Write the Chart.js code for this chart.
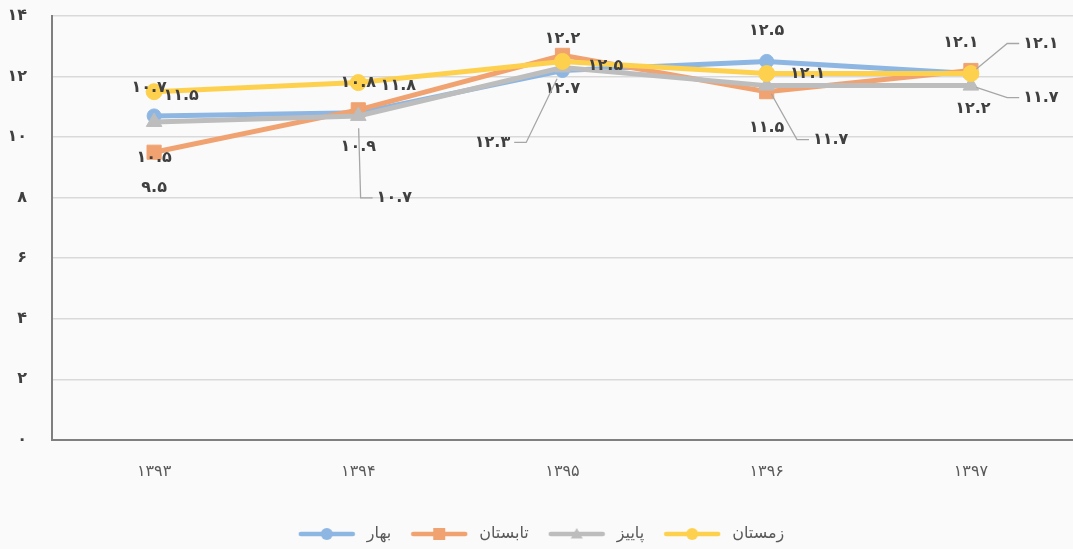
<!DOCTYPE html>
<html>
<head>
<meta charset="utf-8">
<script src="https://cdn.jsdelivr.net/npm/chart.js@4.4.1/dist/chart.umd.min.js"></script>
<style>
  html, body { margin: 0; padding: 0; background: #fafafa; overflow: hidden; }
  #wrap { width: 1073px; height: 549px; position: relative; }
</style>
</head>
<body>
<div id="wrap"><canvas id="chart"></canvas></div>
<script>
const years = [1393, 1394, 1395, 1396, 1397]
const bahar = [10.7, 10.8, 12.2, 12.5, 12.1]
const tabestan = [9.5, 10.9, 12.7, 11.5, 12.2]
const paeez = [10.5, 10.7, 12.3, 11.7, 11.7]
const zemestan = [11.5, 11.8, 12.5, 12.1, 12.1]
const yTicks = [0, 2, 4, 6, 8, 10, 12, 14]

// ارقام فارسی
function fa(v) {
  return String(v).replace(/\d/g, d => '۰۱۲۳۴۵۶۷۸۹'[d])
}

const FONT = '"DejaVu Sans", sans-serif'

// جابجایی برچسب‌ها نسبت به نقطه (فقط چیدمان)
const labelPos = {
  0: { off: [[-5, -28], [0, -30], [0, -32], [0, -31], [-10, -31]] },
  1: { off: [[0, 36], [0, 37], [0, 33], [0, 36], [2, 38]] },
  2: { off: [[0, 36], [36, 82], [-70, 75], [64, 54], [70, 12]], leader: [false, true, true, true, true] },
  3: { off: [[27, 4], [40, 3], [43, 4], [41, 0], [70, -30]], leader: [false, false, false, false, true] }
}

function legendIcon(color, style, r) {
  const c = document.createElement('canvas')
  c.width = 58; c.height = 18
  const g = c.getContext('2d')
  g.strokeStyle = color
  g.lineWidth = 4.5
  g.lineCap = 'round'
  g.beginPath(); g.moveTo(3, 9); g.lineTo(55, 9); g.stroke()
  g.fillStyle = color
  g.beginPath()
  if (style === 'circle') g.arc(29, 9, r, 0, Math.PI * 2)
  else if (style === 'rect') g.rect(29 - r, 9 - r, r * 2, r * 2)
  else { g.moveTo(29, 9 - r); g.lineTo(29 + r, 9 + r * 0.75); g.lineTo(29 - r, 9 + r * 0.75); g.closePath() }
  g.fill()
  return c
}

const series = [
  { label: 'بهار', data: bahar, color: '#8db6e2', style: 'circle', r: 7, order: 4 },
  { label: 'تابستان', data: tabestan, color: '#f0a270', style: 'rect', r: 10, order: 3 },
  { label: 'پاییز', data: paeez, color: '#bdbdbd', style: 'triangle', r: 9, order: 2 },
  { label: 'زمستان', data: zemestan, color: '#fdd14e', style: 'circle', r: 8, order: 1 }
]
const icons = [
  legendIcon('#8db6e2', 'circle', 6),
  legendIcon('#f0a270', 'rect', 6),
  legendIcon('#bdbdbd', 'triangle', 6),
  legendIcon('#fdd14e', 'circle', 6)
]

const dataLabels = {
  id: 'dataLabels',
  afterDatasetsDraw(chart) {
    const ctx = chart.ctx
    ctx.save()
    ctx.font = `bold 16px ${FONT}`
    ctx.fillStyle = '#404040'
    ctx.textAlign = 'center'
    ctx.textBaseline = 'middle'
    chart.data.datasets.forEach((ds, di) => {
      const meta = chart.getDatasetMeta(di)
      const cfg = labelPos[di]
      meta.data.forEach((pt, i) => {
        const [dx, dy] = cfg.off[i]
        const lx = pt.x + dx, ly = pt.y + dy
        const txt = fa(ds.data[i])
        if (cfg.leader && cfg.leader[i]) {
          const w = ctx.measureText(txt).width / 2 + 4
          const edge = dx >= 0 ? lx - w : lx + w
          const elbow = dx >= 0 ? edge - 12 : edge + 12
          ctx.strokeStyle = '#a6a6a6'
          ctx.lineWidth = 1.3
          ctx.beginPath()
          ctx.moveTo(pt.x + (elbow - pt.x) * 0.15, pt.y + (ly - pt.y) * 0.15)
          ctx.lineTo(elbow, ly)
          ctx.lineTo(edge, ly)
          ctx.stroke()
        }
        ctx.fillText(txt, lx, ly)
      })
    })
    ctx.restore()
  }
}

new Chart(document.getElementById('chart'), {
  type: 'line',
  data: {
    labels: years.map(fa),
    datasets: series.map(s => ({
      label: s.label,
      data: s.data,
      borderColor: s.color,
      backgroundColor: s.color,
      borderWidth: 5,
      pointStyle: s.style,
      pointRadius: s.r,
      pointBorderWidth: 1,
      pointBorderColor: s.color,
      pointBackgroundColor: s.color,
      tension: 0,
      order: s.order
    }))
  },
  options: {
    responsive: true,
    maintainAspectRatio: false,
    animation: false,
    layout: { autoPadding: false, padding: { top: 16, left: 6, right: 0, bottom: -3 } },
    plugins: {
      legend: {
        position: 'bottom',
        labels: {
          usePointStyle: true,
          pointStyleWidth: 64,
          padding: 16,
          color: '#595959',
          font: { family: FONT, size: 16 },
          generateLabels: chart => chart.data.datasets.map((ds, i) => ({
            text: ds.label,
            pointStyle: icons[i],
            fillStyle: ds.borderColor,
            strokeStyle: ds.borderColor,
            lineWidth: 0,
            fontColor: '#595959',
            datasetIndex: i
          }))
        }
      },
      tooltip: { enabled: false }
    },
    scales: {
      x: {
        offset: true,
        grid: { display: false },
        border: { color: '#7f7f7f', width: 2 },
        afterFit: s => { s.height += 15; s.paddingLeft = 0; s.paddingRight = 0 },
        ticks: { color: '#595959', padding: 14, font: { family: FONT, size: 16 } }
      },
      y: {
        min: 0,
        max: 14,
        afterBuildTicks: axis => { axis.ticks = yTicks.map(v => ({ value: v })) },
        afterFit: s => { s.width = 46; s.paddingTop = 0; s.paddingBottom = 0 },
        grid: { color: '#d9d9d9', lineWidth: 1.5, drawTicks: false },
        border: { color: '#7f7f7f', width: 2 },
        ticks: {
          color: '#404040',
          padding: 25,
          font: { family: FONT, size: 16, weight: 'bold' },
          callback: v => fa(v)
        }
      }
    }
  },
  plugins: [dataLabels]
})
</script>
</body>
</html>
